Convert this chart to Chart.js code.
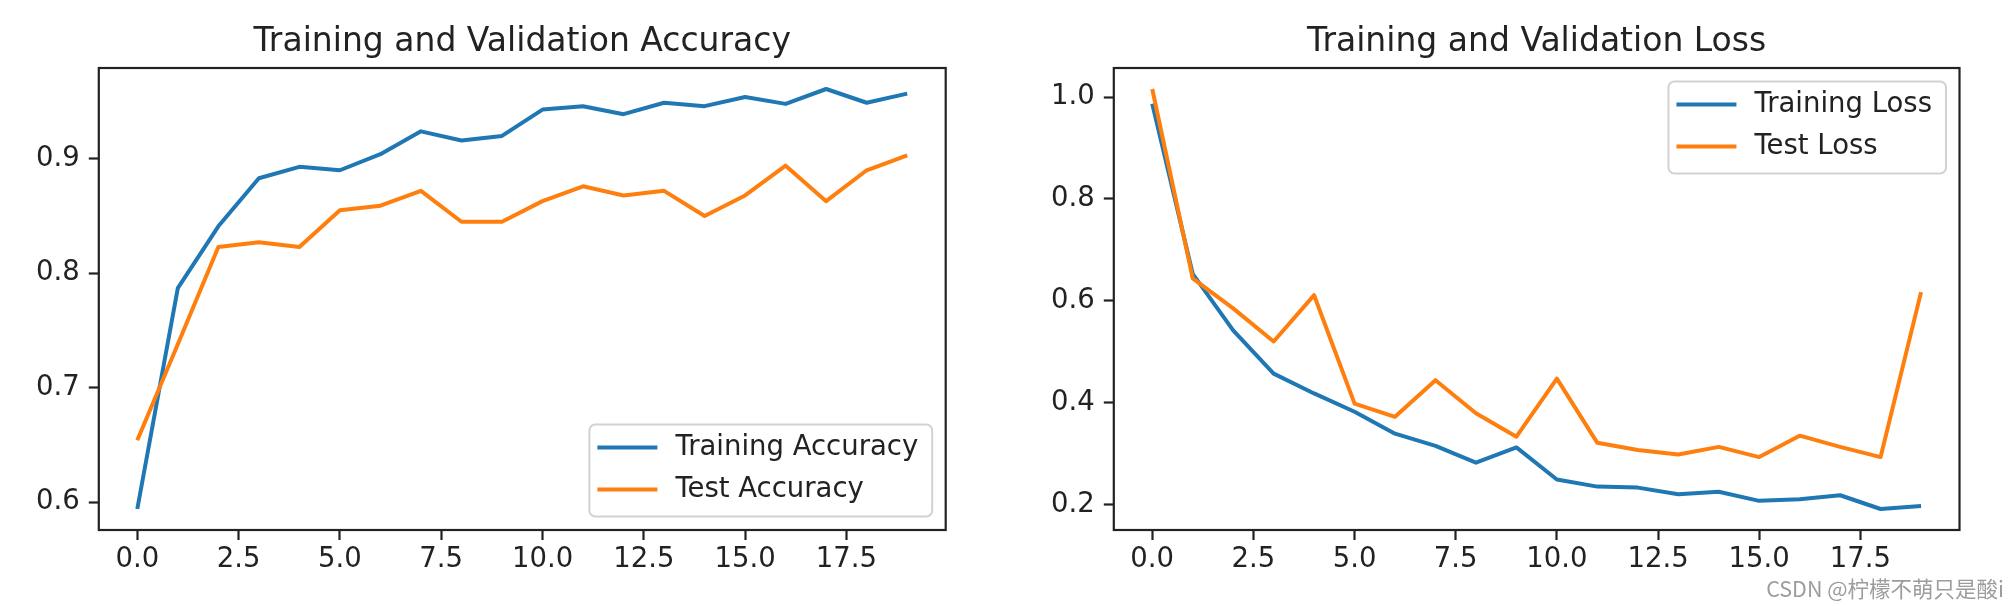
<!DOCTYPE html>
<html>
<head>
<meta charset="utf-8">
<script src="https://cdn.jsdelivr.net/npm/chart.js@4.4.0/dist/chart.umd.min.js"></script>
<style>
  html, body { margin: 0; padding: 0; background: #fff; }
  body { width: 2012px; height: 606px; position: relative; overflow: hidden; }
  .panel { position: absolute; top: 0; width: 1006px; height: 606px; }
  #leftPanel { left: 0; }
  #rightPanel { left: 1006px; }
  .watermark { position: absolute; right: 8px; bottom: 3px; font: 21.5px "Noto Sans CJK SC", sans-serif; color: #9c9c9c; }
</style>
</head>
<body>
<div class="panel" id="leftPanel"><canvas id="accChart"></canvas></div>
<div class="panel" id="rightPanel"><canvas id="lossChart"></canvas></div>
<div class="watermark">CSDN @柠檬不萌只是酸i</div>
<script>
const epochs = [0, 1, 2, 3, 4, 5, 6, 7, 8, 9, 10, 11, 12, 13, 14, 15, 16, 17, 18, 19];
const trainAcc = [0.594, 0.787, 0.841, 0.883, 0.893, 0.890, 0.904, 0.924, 0.916, 0.920,
                  0.943, 0.946, 0.939, 0.949, 0.946, 0.954, 0.948, 0.961, 0.949, 0.957];
const testAcc = [0.654, 0.738, 0.823, 0.827, 0.823, 0.855, 0.859, 0.872, 0.845, 0.845,
                 0.863, 0.876, 0.868, 0.872, 0.850, 0.868, 0.894, 0.863, 0.890, 0.903];
const trainLoss = [0.987, 0.653, 0.542, 0.457, 0.418, 0.382, 0.339, 0.315, 0.282, 0.312,
                   0.249, 0.235, 0.233, 0.220, 0.225, 0.207, 0.210, 0.218, 0.191, 0.197];
const testLoss = [1.016, 0.644, 0.585, 0.520, 0.611, 0.398, 0.372, 0.444, 0.379, 0.333,
                  0.447, 0.321, 0.307, 0.298, 0.313, 0.293, 0.335, 0.313, 0.293, 0.617];
const xTicks = [0, 2.5, 5, 7.5, 10, 12.5, 15, 17.5];
const accTicks = [0.6, 0.7, 0.8, 0.9];
const lossTicks = [0.2, 0.4, 0.6, 0.8, 1.0];

Chart.defaults.font.family = '"DejaVu Sans"';
Chart.defaults.color = '#222';

// matplotlib-style box around the axes plus the legend inside it
const frameAndLegend = {
    id: 'frameAndLegend',
    afterDraw(chart, args, opts) {
        const ctx = chart.ctx;
        const a = chart.chartArea;
        ctx.save();
        ctx.strokeStyle = '#222';
        ctx.lineWidth = 2.2;
        ctx.strokeRect(a.left, a.top, a.right - a.left, a.bottom - a.top);

        const fs = 27.5;
        ctx.font = fs + 'px "DejaVu Sans"';
        const sets = chart.data.datasets;
        const textW = Math.max(...sets.map(d => ctx.measureText(d.label).width));
        const w = 8 + 60 + 18 + textW + 14;
        const h = 92;
        const inset = 13.5;
        const x = a.right - inset - w;
        const y = opts.loc === 'lower right' ? a.bottom - inset - h : a.top + inset;
        ctx.beginPath();
        ctx.roundRect(x, y, w, h, 6);
        ctx.fillStyle = 'rgba(255,255,255,0.8)';
        ctx.fill();
        ctx.lineWidth = 2;
        ctx.strokeStyle = '#d2d2d2';
        ctx.stroke();
        sets.forEach((d, i) => {
            const cy = y + 23 + i * 42;
            ctx.beginPath();
            ctx.moveTo(x + 8, cy);
            ctx.lineTo(x + 68, cy);
            ctx.strokeStyle = d.borderColor;
            ctx.lineWidth = 4;
            ctx.stroke();
            ctx.fillStyle = '#222';
            ctx.textBaseline = 'middle';
            ctx.textAlign = 'left';
            ctx.fillText(d.label, x + 86, cy);
        });
        ctx.restore();
    }
};

function makeChart(id, title, labels, train, test, yTicks, axisWidth, padRight, legendLoc) {
    const all = train.concat(test);
    const lo = Math.min(...all), hi = Math.max(...all);
    const my = (hi - lo) * 0.05;
    const mx = (epochs[epochs.length - 1] - epochs[0]) * 0.05;
    const tickGrid = { drawOnChartArea: false, drawTicks: true, tickLength: 10, tickWidth: 2.2, tickColor: '#222' };

    return new Chart(document.getElementById(id), {
        type: 'line',
        data: {
            datasets: [
                { label: labels[0], data: epochs.map((e, i) => ({ x: e, y: train[i] })), borderColor: '#1f77b4', order: 1 },
                { label: labels[1], data: epochs.map((e, i) => ({ x: e, y: test[i] })), borderColor: '#ff7f0e', order: 0 }
            ]
        },
        options: {
            responsive: true,
            maintainAspectRatio: false,
            animation: false,
            layout: { padding: { left: 0, right: padRight, top: 0, bottom: 0 } },
            elements: {
                point: { radius: 0 },
                line: { borderWidth: 4, tension: 0, borderJoinStyle: 'round', fill: false }
            },
            plugins: {
                legend: { display: false },
                tooltip: { enabled: false },
                title: {
                    display: true,
                    text: title,
                    fullSize: false,
                    color: '#222',
                    font: { size: 33, weight: 'normal', lineHeight: 1.2 },
                    padding: { top: 23, bottom: 5.4 }
                },
                frameAndLegend: { loc: legendLoc }
            },
            scales: {
                x: {
                    type: 'linear',
                    min: epochs[0] - mx,
                    max: epochs[epochs.length - 1] + mx,
                    afterBuildTicks: s => { s.ticks = xTicks.map(v => ({ value: v })); },
                    afterFit: s => { s.height = 76; },
                    border: { display: false },
                    grid: tickGrid,
                    ticks: { padding: 3, font: { size: 27.5 }, maxRotation: 0, autoSkip: false, callback: v => v.toFixed(1) }
                },
                y: {
                    type: 'linear',
                    min: lo - my,
                    max: hi + my,
                    afterBuildTicks: s => { s.ticks = yTicks.map(v => ({ value: v })); },
                    afterFit: s => { s.width = axisWidth; },
                    border: { display: false },
                    grid: tickGrid,
                    ticks: { padding: 9, font: { size: 27.5 }, autoSkip: false, callback: v => v.toFixed(1) }
                }
            }
        },
        plugins: [frameAndLegend]
    });
}

makeChart('accChart', 'Training and Validation Accuracy', ['Training Accuracy', 'Test Accuracy'],
    trainAcc, testAcc, accTicks, 98.8, 60.3, 'lower right');
makeChart('lossChart', 'Training and Validation Loss', ['Training Loss', 'Test Loss'],
    trainLoss, testLoss, lossTicks, 107.8, 52.5, 'upper right');
</script>
</body>
</html>
